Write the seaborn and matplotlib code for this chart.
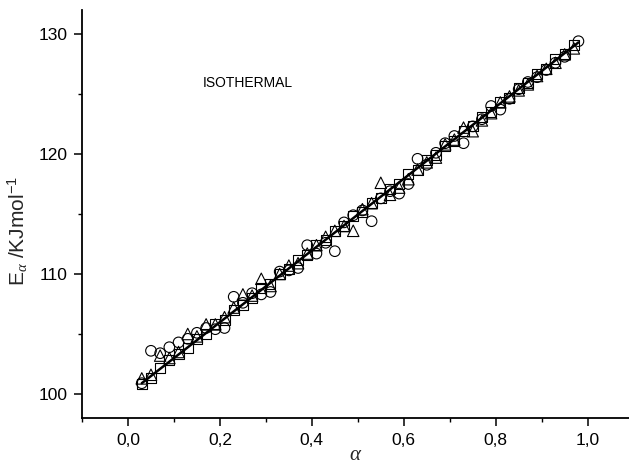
import matplotlib
matplotlib.use("Agg")
import matplotlib.pyplot as plt
from matplotlib.ticker import FuncFormatter, MultipleLocator
import seaborn as sns
import pandas as pd

# Activation energy vs. conversion, three isothermal data sets
alpha_circ = [0.03, 0.05, 0.07, 0.09, 0.11, 0.13, 0.15, 0.17, 0.19, 0.21, 0.23, 0.25,
              0.27, 0.29, 0.31, 0.33, 0.35, 0.37, 0.39, 0.41, 0.43, 0.45, 0.47, 0.49,
              0.51, 0.53, 0.55, 0.57, 0.59, 0.61, 0.63, 0.65, 0.67, 0.69, 0.71, 0.73,
              0.75, 0.77, 0.79, 0.81, 0.83, 0.85, 0.87, 0.89, 0.91, 0.93, 0.95, 0.98]
E_circ = [100.9, 103.6, 103.4, 103.9, 104.3, 104.6, 105.1, 105.5, 105.4, 105.5, 108.1, 107.6,
          108.4, 108.3, 108.5, 110.2, 110.3, 110.5, 112.4, 111.7, 112.6, 111.9, 114.3, 114.9,
          115.3, 114.4, 116.3, 116.9, 116.7, 117.5, 119.6, 119.1, 120.1, 120.9, 121.5, 120.9,
          122.3, 122.9, 124.0, 123.7, 124.6, 125.4, 126.0, 126.4, 127.0, 127.6, 128.1, 129.4]

alpha_tri = [0.03, 0.05, 0.07, 0.09, 0.11, 0.13, 0.15, 0.17, 0.19, 0.21, 0.23, 0.25,
             0.27, 0.29, 0.31, 0.33, 0.35, 0.37, 0.39, 0.41, 0.43, 0.45, 0.47, 0.49,
             0.51, 0.53, 0.55, 0.57, 0.59, 0.61, 0.63, 0.65, 0.67, 0.69, 0.71, 0.73,
             0.75, 0.77, 0.79, 0.81, 0.83, 0.85, 0.87, 0.89, 0.91, 0.93, 0.95, 0.97]
E_tri = [101.3, 101.6, 103.2, 103.0, 103.5, 105.0, 104.8, 105.8, 105.8, 106.4, 107.2, 108.3,
         108.2, 109.6, 109.0, 110.0, 110.7, 110.9, 111.7, 112.4, 113.1, 113.6, 114.0, 113.6,
         115.4, 115.9, 117.6, 116.6, 117.2, 117.9, 118.7, 119.3, 119.7, 120.8, 121.2, 122.2,
         121.9, 122.8, 123.4, 124.3, 124.8, 125.3, 125.8, 126.5, 127.1, 127.6, 128.3, 128.8]

alpha_sq = [0.03, 0.05, 0.07, 0.09, 0.11, 0.13, 0.15, 0.17, 0.19, 0.21, 0.23, 0.25,
            0.27, 0.29, 0.31, 0.33, 0.35, 0.37, 0.39, 0.41, 0.43, 0.45, 0.47, 0.49,
            0.51, 0.53, 0.55, 0.57, 0.59, 0.61, 0.63, 0.65, 0.67, 0.69, 0.71, 0.73,
            0.75, 0.77, 0.79, 0.81, 0.83, 0.85, 0.87, 0.89, 0.91, 0.93, 0.95, 0.97]
E_sq = [100.8, 101.3, 102.2, 102.8, 103.3, 103.8, 104.6, 105.0, 105.8, 106.2, 107.0, 107.4,
        108.0, 108.8, 109.2, 110.0, 110.4, 111.2, 111.6, 112.4, 112.8, 113.6, 114.0, 114.8,
        115.2, 115.9, 116.3, 117.1, 117.5, 118.3, 118.7, 119.5, 119.9, 120.7, 121.1, 121.9,
        122.3, 123.1, 123.5, 124.3, 124.7, 125.5, 125.9, 126.7, 127.1, 127.9, 128.3, 129.1]

# Linear fit through all points
fit_alpha = [0.03, 0.98]
fit_E = [100.9, 129.3]

x_ticks = [0.0, 0.2, 0.4, 0.6, 0.8, 1.0]
y_ticks = [100, 110, 120, 130]

sns.set_style("ticks")
plt.rcParams["font.family"] = ["Liberation Sans", "DejaVu Sans"]
plt.rcParams["mathtext.fontset"] = "custom"
plt.rcParams["mathtext.rm"] = "Liberation Sans"
plt.rcParams["mathtext.it"] = "Liberation Serif:italic"

fig = plt.figure(figsize=(6.29, 4.63), dpi=100)
ax = fig.add_axes([0.1304, 0.0972, 0.8696, 0.8812])

series = [
    (alpha_circ, E_circ, "o", 58),
    (alpha_tri, E_tri, "^", 68),
    (alpha_sq, E_sq, "s", 52),
]
for xs, ys, mk, size in series:
    df = pd.DataFrame({"alpha": xs, "E": ys})
    sns.scatterplot(data=df, x="alpha", y="E", marker=mk, s=size,
                    facecolors="none", edgecolors="black", linewidths=0.8,
                    ax=ax, zorder=3)

sns.lineplot(x=fit_alpha, y=fit_E, color="black", linewidth=1.8, ax=ax, zorder=4)

ax.set_xlim(-0.1, 1.09)
ax.set_ylim(98, 132)
ax.set_xticks(x_ticks)
ax.set_yticks(y_ticks)
ax.xaxis.set_minor_locator(MultipleLocator(0.1))
ax.yaxis.set_minor_locator(MultipleLocator(5))
ax.xaxis.set_major_formatter(FuncFormatter(lambda v, p: f"{v:.1f}".replace(".", ",")))
ax.yaxis.set_major_formatter(FuncFormatter(lambda v, p: f"{int(v)}"))

ax.tick_params(axis="both", which="major", direction="out", length=6, width=1.1,
               labelsize=12.5, color="black", labelcolor="black", pad=4.5)
ax.tick_params(axis="both", which="minor", direction="out", length=3, width=1.0,
               color="black")

for side in ["top", "right"]:
    ax.spines[side].set_visible(False)
for side in ["left", "bottom"]:
    ax.spines[side].set_linewidth(1.3)
    ax.spines[side].set_color("black")

ax.set_xlabel(r"$\alpha$", fontsize=15, labelpad=-2)
ax.set_ylabel(r"E$_{\alpha}$ /KJmol$^{-1}$", fontsize=15)
ax.yaxis.set_label_coords(-0.095, 0.458)

ax.text(0.261, 125.9, "ISOTHERMAL", fontsize=10, ha="center", va="center",
        color="black")

fig.savefig("out.png", dpi=100)
